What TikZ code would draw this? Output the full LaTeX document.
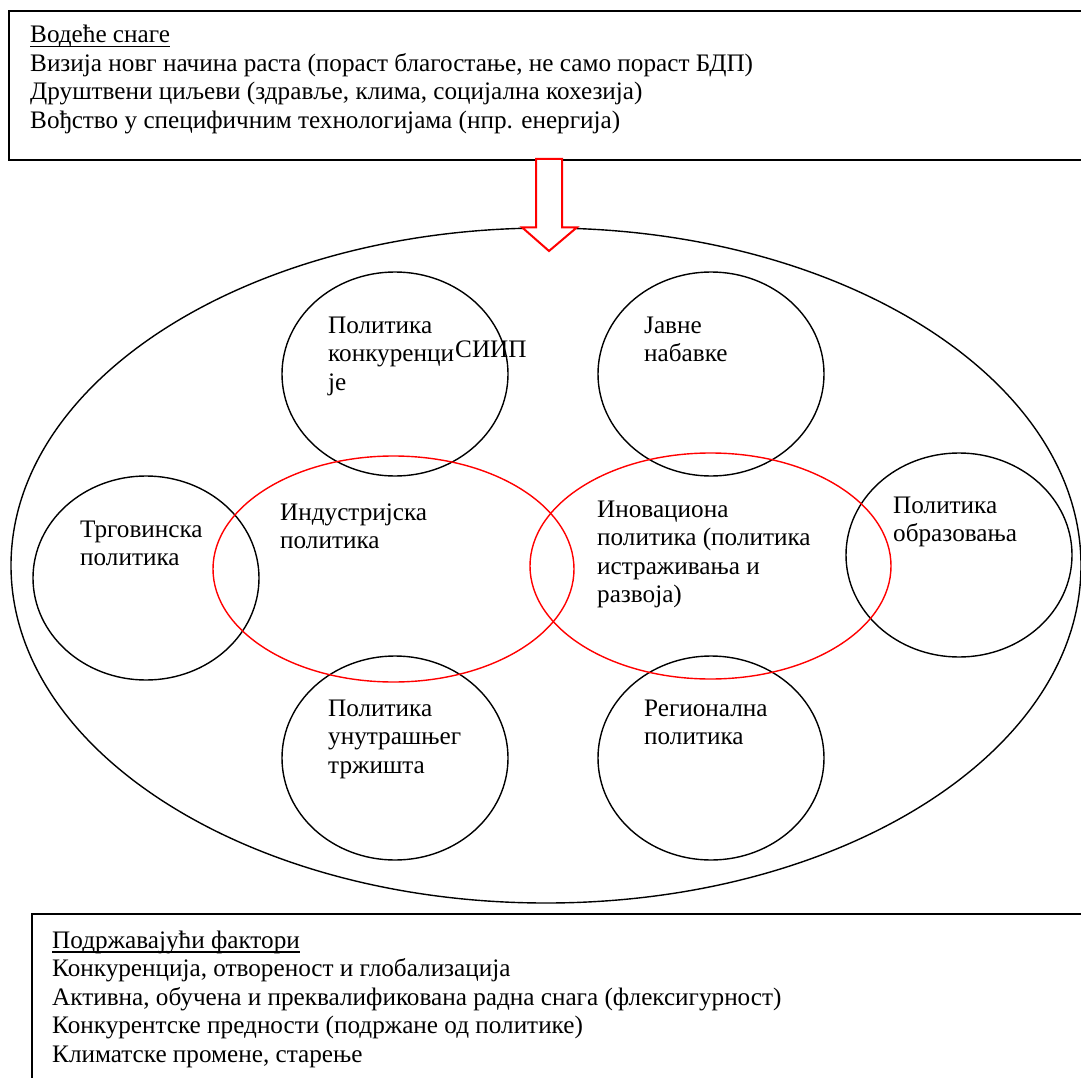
\documentclass[tikz,border=0pt]{standalone}
\usepackage{fontspec}
\setmainfont{Liberation Serif}
\usetikzlibrary{shapes.geometric}
\newcommand{\ulin}[1]{\setbox0\hbox{#1}\rlap{\rule[-4.5pt]{\wd0}{1.4pt}}\box0}
\begin{document}
\begin{tikzpicture}[x=1pt,y=-1pt,
  txt/.style={anchor=base west, inner sep=0pt, align=left, font=\fontsize{25.2}{28.5}\selectfont},
  bubble/.style={draw=black, line width=1.4pt, ellipse, minimum width=226pt, minimum height=204pt, inner sep=0pt},
  redell/.style={draw=red, line width=1.4pt, ellipse, minimum width=361pt, minimum height=226pt, inner sep=0pt},
  panel/.style={draw=black, line width=1.6pt, rectangle, inner sep=0pt, anchor=north west},
  outerell/.style={draw=black, line width=1.4pt, ellipse, minimum width=1070pt, minimum height=675pt, inner sep=0pt},
  blockarrow/.style={draw=red, line width=2pt, fill=white, line join=miter}
]
\useasboundingbox (0,0) rectangle (1081,1078);
\clip (0,0) rectangle (1081,1078);
\fill[white] (0,0) rectangle (1081,1078);

% panels
\node[panel, minimum width=1100pt, minimum height=148.5pt] (drivers) at (8,10.5) {};
\node[panel, minimum width=1100pt, minimum height=200pt] (support) at (31,913) {};

% outer ellipse
\node[outerell] (outer) at (546,565.5) {};

% policy bubbles
\node[bubble] (konk) at (395,374) {};
\node[bubble] (javne) at (711,374) {};
\node[bubble] (trg) at (146,578) {};
\node[bubble] (obr) at (959,555) {};
\node[bubble] (unut) at (395,758) {};
\node[bubble] (reg) at (711,758) {};

% red ellipses
\node[redell] (ind) at (393.5,569) {};
\node[redell] (inov) at (710.5,566) {};

% block arrow
\coordinate (arrtop) at (549,159);
\coordinate (arrtip) at (549,251);
\draw[blockarrow] ([xshift=-13pt]arrtop) -- ([xshift=-13pt]arrtop |- outer.north)
  -- ([xshift=-27pt]arrtop |- outer.north) -- (arrtip)
  -- ([xshift=28pt]arrtop |- outer.north) -- ([xshift=13pt]arrtop |- outer.north)
  -- ([xshift=13pt]arrtop) -- cycle;

% texts (anchored at the baseline of their last line)
\node[txt] (drvtxt) at (30,128.5) {\ulin{Водеће снаге}\\
Визија новг начина раста (пораст благостање, не само пораст БДП)\\
Друштвени циљеви (здравље, клима, социјална кохезија)\\
Вођство у специфичним технологијама (нпр. енергија)};

\node[txt] (suptxt) at (52,1062) {\ulin{Подржавајући фактори}\\
Конкуренција, отвореност и глобализација\\
Активна, обучена и преквалификована радна снага (флексигурност)\\
Конкурентске предности (подржане од политике)\\
Климатске промене, старење};

\node[txt] (konktxt) at (328,390) {Политика\\конкуренци\\је};
\node[txt] (siip) at (455,357) {СИИП};
\node[txt] (javnetxt) at (644,361.5) {Јавне\\набавке};
\node[txt] (trgtxt) at (80,565.5) {Трговинска\\политика};
\node[txt] (indtxt) at (280,548.5) {Индустријска\\политика};
\node[txt] (inovtxt) at (597,602.5) {Иновациона\\политика (политика\\истраживања и\\развоја)};
\node[txt] (obrtxt) at (893,541.5) {Политика\\образовања};
\node[txt] (unuttxt) at (328,773) {Политика\\унутрашњег\\тржишта};
\node[txt] (regtxt) at (644,744.5) {Регионална\\политика};
\end{tikzpicture}
\end{document}
